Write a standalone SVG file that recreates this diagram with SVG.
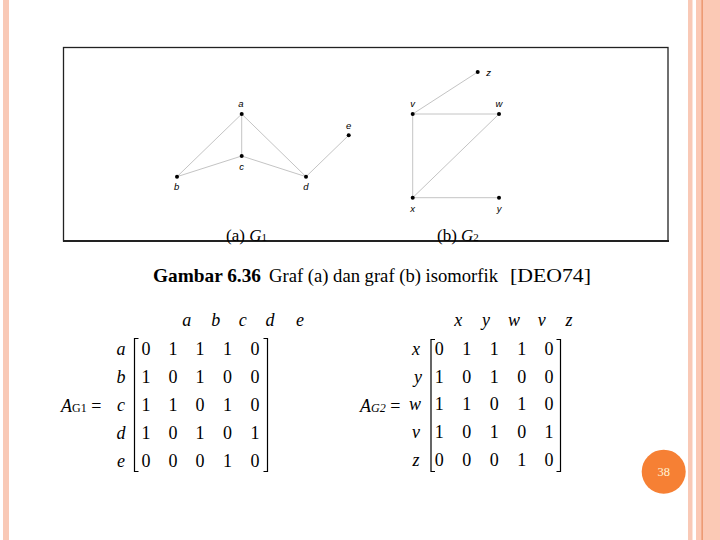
<svg xmlns="http://www.w3.org/2000/svg" width="720" height="540" viewBox="0 0 720 540">
<style>
.edge{stroke:#c4c4c4;stroke-width:1;fill:none}
.dot{fill:#000}
.nl{font-family:"Liberation Sans",Arial,sans-serif;font-style:italic;font-size:9.5px;fill:#000;text-anchor:middle}
.ser{font-family:"Liberation Serif","Times New Roman",serif;fill:#000}
.it{font-style:italic}
.cell{font-family:"Liberation Serif","Times New Roman",serif;font-size:18px;text-anchor:middle;fill:#000}
.brk{stroke:#000;stroke-width:1.2;fill:none}
</style>
<rect width="720" height="540" fill="#fff"/>
<!-- decorative stripes -->
<rect x="3" y="0" width="6" height="540" fill="#f9c9b6"/>
<rect x="688" y="0" width="4.5" height="540" fill="#f9c9b6"/>
<rect x="696" y="0" width="24" height="540" fill="#fbc9b5"/>
<rect x="701.5" y="0" width="1.3" height="540" fill="#e98f64"/>
<!-- figure frame -->
<rect x="63.5" y="47.5" width="604.5" height="193.5" fill="#fff" stroke="#222" stroke-width="1.3"/>
<line x1="63" y1="241" x2="669" y2="241" stroke="#222" stroke-width="2"/>
<g id="connectors">
<line class="edge" x1="241.7" y1="114" x2="177" y2="176.7"/>
<line class="edge" x1="241.7" y1="114" x2="241.7" y2="156"/>
<line class="edge" x1="241.7" y1="114" x2="306" y2="176.7"/>
<line class="edge" x1="177" y1="176.7" x2="241.7" y2="156"/>
<line class="edge" x1="241.7" y1="156" x2="306" y2="176.7"/>
<line class="edge" x1="306" y1="176.7" x2="348.7" y2="135.3"/>
<line class="edge" x1="412.7" y1="114" x2="477.7" y2="72"/>
<line class="edge" x1="412.7" y1="114" x2="499" y2="114"/>
<line class="edge" x1="412.7" y1="114" x2="412.7" y2="197.7"/>
<line class="edge" x1="499" y1="114" x2="412.7" y2="197.7"/>
<line class="edge" x1="412.7" y1="197.7" x2="499" y2="197.7"/>
</g>
<g id="node-a"><circle class="dot" cx="241.7" cy="114" r="2"/><text class="nl" x="241" y="106.5">a</text></g>
<g id="node-b"><circle class="dot" cx="177" cy="176.7" r="2"/><text class="nl" x="176.7" y="190">b</text></g>
<g id="node-c"><circle class="dot" cx="241.7" cy="156" r="2"/><text class="nl" x="241.7" y="169.5">c</text></g>
<g id="node-d"><circle class="dot" cx="306" cy="176.7" r="2"/><text class="nl" x="306" y="190">d</text></g>
<g id="node-e"><circle class="dot" cx="348.7" cy="135.3" r="2"/><text class="nl" x="348.7" y="129">e</text></g>
<g id="node-z"><circle class="dot" cx="477.7" cy="72" r="2"/><text class="nl" x="488.5" y="75.5">z</text></g>
<g id="node-v"><circle class="dot" cx="412.7" cy="114" r="2"/><text class="nl" x="412.7" y="107">v</text></g>
<g id="node-w"><circle class="dot" cx="499" cy="114" r="2"/><text class="nl" x="499" y="107">w</text></g>
<g id="node-x"><circle class="dot" cx="412.7" cy="197.7" r="2"/><text class="nl" x="412.7" y="211.5">x</text></g>
<g id="node-y"><circle class="dot" cx="499" cy="197.7" r="2"/><text class="nl" x="499" y="211.5">y</text></g>
<!-- captions -->
<text class="ser" x="226" y="240.5" font-size="17">(a) <tspan class="it">G</tspan><tspan font-size="11">1</tspan></text>
<text class="ser" x="437" y="240.5" font-size="17">(b) <tspan class="it">G</tspan><tspan font-size="11">2</tspan></text>
<!-- title -->
<text class="ser" y="282" font-size="19"><tspan x="153" font-weight="bold" textLength="108" lengthAdjust="spacingAndGlyphs">Gambar 6.36</tspan><tspan x="269" textLength="229" lengthAdjust="spacingAndGlyphs">Graf (a) dan graf (b) isomorfik</tspan><tspan x="510" textLength="81" lengthAdjust="spacingAndGlyphs">[DEO74]</tspan></text>
<!-- matrix G1 -->
<g id="matrix-g1">
<g class="cell it">
<text x="186.7" y="326">a</text><text x="215.7" y="326">b</text><text x="242.7" y="326">c</text><text x="270" y="326">d</text><text x="300" y="326">e</text>
<text x="121" y="355">a</text><text x="121" y="383">b</text><text x="121" y="411">c</text><text x="121" y="438.5">d</text><text x="121" y="466.5">e</text>
</g>
<g class="cell">
<text x="146" y="355">0</text><text x="173" y="355">1</text><text x="200" y="355">1</text><text x="227.5" y="355">1</text><text x="255" y="355">0</text>
<text x="146" y="383">1</text><text x="173" y="383">0</text><text x="200" y="383">1</text><text x="227.5" y="383">0</text><text x="255" y="383">0</text>
<text x="146" y="411">1</text><text x="173" y="411">1</text><text x="200" y="411">0</text><text x="227.5" y="411">1</text><text x="255" y="411">0</text>
<text x="146" y="438.5">1</text><text x="173" y="438.5">0</text><text x="200" y="438.5">1</text><text x="227.5" y="438.5">0</text><text x="255" y="438.5">1</text>
<text x="146" y="466.5">0</text><text x="173" y="466.5">0</text><text x="200" y="466.5">0</text><text x="227.5" y="466.5">1</text><text x="255" y="466.5">0</text>
</g>
<path class="brk" d="M138.5 338.5H134.5V471.5H138.5"/>
<path class="brk" d="M263.5 338.5H267.5V471.5H263.5"/>
<text class="ser" x="61" y="411.5" font-size="18"><tspan class="it">A</tspan><tspan font-size="12">G1</tspan> =</text>
</g>
<!-- matrix G2 -->
<g id="matrix-g2">
<g class="cell it">
<text x="458.3" y="326">x</text><text x="486" y="326">y</text><text x="514" y="326">w</text><text x="541.7" y="326">v</text><text x="569" y="326">z</text>
<text x="416" y="355">x</text><text x="418" y="382.5">y</text><text x="415" y="410">w</text><text x="416" y="438">v</text><text x="416" y="466">z</text>
</g>
<g class="cell">
<text x="439.3" y="355">0</text><text x="466.7" y="355">1</text><text x="494.3" y="355">1</text><text x="521.7" y="355">1</text><text x="549" y="355">0</text>
<text x="439.3" y="382.5">1</text><text x="466.7" y="382.5">0</text><text x="494.3" y="382.5">1</text><text x="521.7" y="382.5">0</text><text x="549" y="382.5">0</text>
<text x="439.3" y="410">1</text><text x="466.7" y="410">1</text><text x="494.3" y="410">0</text><text x="521.7" y="410">1</text><text x="549" y="410">0</text>
<text x="439.3" y="438">1</text><text x="466.7" y="438">0</text><text x="494.3" y="438">1</text><text x="521.7" y="438">0</text><text x="549" y="438">1</text>
<text x="439.3" y="466">0</text><text x="466.7" y="466">0</text><text x="494.3" y="466">0</text><text x="521.7" y="466">1</text><text x="549" y="466">0</text>
</g>
<path class="brk" d="M435 339.5H431V471.5H435"/>
<path class="brk" d="M556.5 339.5H560.5V471.5H556.5"/>
<text class="ser" x="360" y="411.5" font-size="18"><tspan class="it">A</tspan><tspan class="it" font-size="12">G2</tspan> =</text>
</g>
<!-- page number -->
<g id="page-number">
<circle cx="663.7" cy="471.7" r="22" fill="#f68034"/>
<text x="663.7" y="476" font-family="'Liberation Serif','Times New Roman',serif" font-size="12.5" fill="#fff3d6" text-anchor="middle">38</text>
</g>
</svg>
